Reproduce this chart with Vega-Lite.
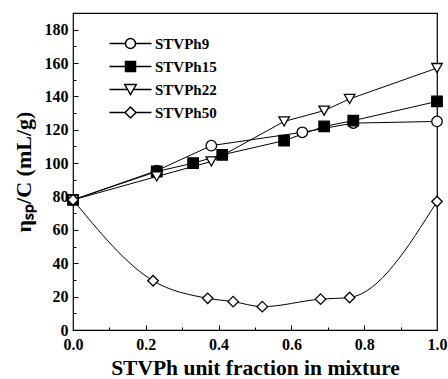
{
  "$schema": "https://vega.github.io/schema/vega-lite/v6.json",
  "width": 364,
  "height": 317,
  "autosize": {"type": "none"},
  "padding": {"left": 73, "top": 13, "right": 11, "bottom": 49},
  "background": "white",
  "config": {
    "view": {"stroke": "black", "strokeWidth": 1.2},
    "font": "Liberation Serif",
    "axis": {"grid": false, "domain": false, "labelFont": "Liberation Serif", "labelFontWeight": "bold", "labelFontSize": 16, "labelColor": "black", "titleFont": "Liberation Serif", "titleFontWeight": "bold", "titleColor": "black", "tickColor": "black", "tickWidth": 1}
  },
  "data": {
    "values": [
      {"series": "STVPh9", "x": 0.0, "y": 78},
      {"series": "STVPh9", "x": 0.23, "y": 95.5},
      {"series": "STVPh9", "x": 0.38, "y": 110.5},
      {"series": "STVPh9", "x": 0.63, "y": 118.5},
      {"series": "STVPh9", "x": 0.77, "y": 124},
      {"series": "STVPh9", "x": 1.0, "y": 125},
      {"series": "STVPh15", "x": 0.0, "y": 78},
      {"series": "STVPh15", "x": 0.23, "y": 95},
      {"series": "STVPh15", "x": 0.33, "y": 100},
      {"series": "STVPh15", "x": 0.41, "y": 105},
      {"series": "STVPh15", "x": 0.58, "y": 113.5},
      {"series": "STVPh15", "x": 0.69, "y": 122},
      {"series": "STVPh15", "x": 0.77, "y": 125.5},
      {"series": "STVPh15", "x": 1.0, "y": 137},
      {"series": "STVPh22", "x": 0.0, "y": 78},
      {"series": "STVPh22", "x": 0.23, "y": 92},
      {"series": "STVPh22", "x": 0.38, "y": 101},
      {"series": "STVPh22", "x": 0.58, "y": 125},
      {"series": "STVPh22", "x": 0.69, "y": 131.5},
      {"series": "STVPh22", "x": 0.76, "y": 138.5},
      {"series": "STVPh22", "x": 1.0, "y": 157},
      {"series": "STVPh50", "x": 0.0, "y": 78},
      {"series": "STVPh50", "x": 0.22, "y": 29.5},
      {"series": "STVPh50", "x": 0.37, "y": 19},
      {"series": "STVPh50", "x": 0.44, "y": 17},
      {"series": "STVPh50", "x": 0.52, "y": 14},
      {"series": "STVPh50", "x": 0.68, "y": 18.5},
      {"series": "STVPh50", "x": 0.76, "y": 19.5},
      {"series": "STVPh50", "x": 1.0, "y": 77}
    ]
  },
  "resolve": {
    "scale": {"shape": "independent", "fill": "independent"},
    "axis": {"x": "independent", "y": "independent"}
  },
  "layer": [
    {
      "transform": [{"filter": "datum.series !== 'STVPh50'"}],
      "mark": {"type": "line", "color": "black", "strokeWidth": 1},
      "encoding": {
        "x": {"field": "x", "type": "quantitative", "scale": {"domain": [0, 1], "nice": false},
          "axis": {"orient": "bottom", "values": [0, 0.2, 0.4, 0.6, 0.8, 1.0], "format": ".1f", "ticks": false, "labelPadding": 6, "labelFlush": false,
            "title": "STVPh unit fraction in mixture", "titleFontSize": 21.5, "titlePadding": 5}},
        "y": {"field": "y", "type": "quantitative", "scale": {"domain": [0, 190], "nice": false},
          "axis": {"orient": "left", "values": [0, 20, 40, 60, 80, 100, 120, 140, 160, 180], "ticks": false, "labelPadding": 5,
            "title": "ηₛₚ/C (mL/g)", "titleFontSize": 22, "titlePadding": 9}},
        "detail": {"field": "series"}
      }
    },
    {
      "transform": [{"filter": "datum.series === 'STVPh50'"}],
      "mark": {"type": "line", "color": "black", "strokeWidth": 1, "interpolate": "monotone"},
      "encoding": {
        "x": {"field": "x", "type": "quantitative",
          "axis": {"orient": "bottom", "values": [0.1, 0.3, 0.5, 0.7, 0.9], "labels": false, "tickSize": 3, "offset": -3, "title": null}},
        "y": {"field": "y", "type": "quantitative",
          "axis": {"orient": "left", "values": [10, 30, 50, 70, 90, 110, 130, 150, 170, 190], "labels": false, "tickSize": 3, "offset": -3, "title": null}}
      }
    },
    {
      "mark": {"type": "point", "filled": true, "stroke": "black", "strokeWidth": 1.3, "size": 110, "opacity": 1},
      "encoding": {
        "x": {"field": "x", "type": "quantitative",
          "axis": {"orient": "bottom", "values": [0.2, 0.4, 0.6, 0.8], "labels": false, "tickSize": 5, "offset": -5, "title": null}},
        "y": {"field": "y", "type": "quantitative",
          "axis": {"orient": "left", "values": [20, 40, 60, 80, 100, 120, 140, 160, 180], "labels": false, "tickSize": 5, "offset": -5, "title": null}},
        "shape": {"field": "series", "type": "nominal", "sort": ["STVPh9", "STVPh15", "STVPh22", "STVPh50"],
          "scale": {"domain": ["STVPh9", "STVPh15", "STVPh22", "STVPh50"], "range": ["circle", "square", "triangle-down", "diamond"]}, "legend": null},
        "fill": {"field": "series", "type": "nominal",
          "scale": {"domain": ["STVPh9", "STVPh15", "STVPh22", "STVPh50"], "range": ["white", "black", "white", "white"]}, "legend": null}
      }
    },
    {
      "transform": [{"filter": "datum.x < 0"}],
      "mark": {"type": "point", "filled": true, "stroke": "black", "strokeWidth": 1.3, "size": 100, "opacity": 1},
      "encoding": {
        "x": {"field": "x", "type": "quantitative", "axis": null},
        "y": {"field": "y", "type": "quantitative", "axis": null},
        "shape": {"field": "series", "type": "nominal", "sort": ["STVPh9", "STVPh15", "STVPh22", "STVPh50"],
          "scale": {"domain": ["STVPh9", "STVPh15", "STVPh22", "STVPh50"], "range": [
            "M-4.2,0H-1M1,0H4.2M-1,0A1,1,0,1,0,1,0A1,1,0,1,0,-1,0Z",
            "M-4.2,0H-1M1,0H4.2M-1,-1H1V1H-1Z",
            "M-4.2,0H-0.575M0.575,0H4.2M-1.15,-1H1.15L0,1Z",
            "M-4.2,0H-1.1M1.1,0H4.2M-1.1,0L0,-1.1L1.1,0L0,1.1Z"
          ]},
          "legend": {"orient": "none", "legendX": 50, "legendY": 23, "title": null, "labelFont": "Liberation Serif", "labelFontWeight": "bold", "labelFontSize": 15, "labelColor": "black", "labelOffset": 17, "rowPadding": 6,
            "encode": {"symbols": {"update": {"opacity": {"value": 1}, "fillOpacity": {"value": 1}, "strokeOpacity": {"value": 1}, "stroke": {"value": "black"}, "strokeWidth": {"value": 1.3}}}}}},
        "fill": {"field": "series", "type": "nominal",
          "scale": {"domain": ["STVPh9", "STVPh15", "STVPh22", "STVPh50"], "range": ["white", "black", "white", "white"]},
          "legend": {"orient": "none", "legendX": 50, "legendY": 23, "title": null, "labelFont": "Liberation Serif", "labelFontWeight": "bold", "labelFontSize": 15, "labelColor": "black", "labelOffset": 17, "rowPadding": 6,
            "encode": {"symbols": {"update": {"opacity": {"value": 1}, "fillOpacity": {"value": 1}, "strokeOpacity": {"value": 1}, "stroke": {"value": "black"}, "strokeWidth": {"value": 1.3}}}}}}
      }
    }
  ]
}
